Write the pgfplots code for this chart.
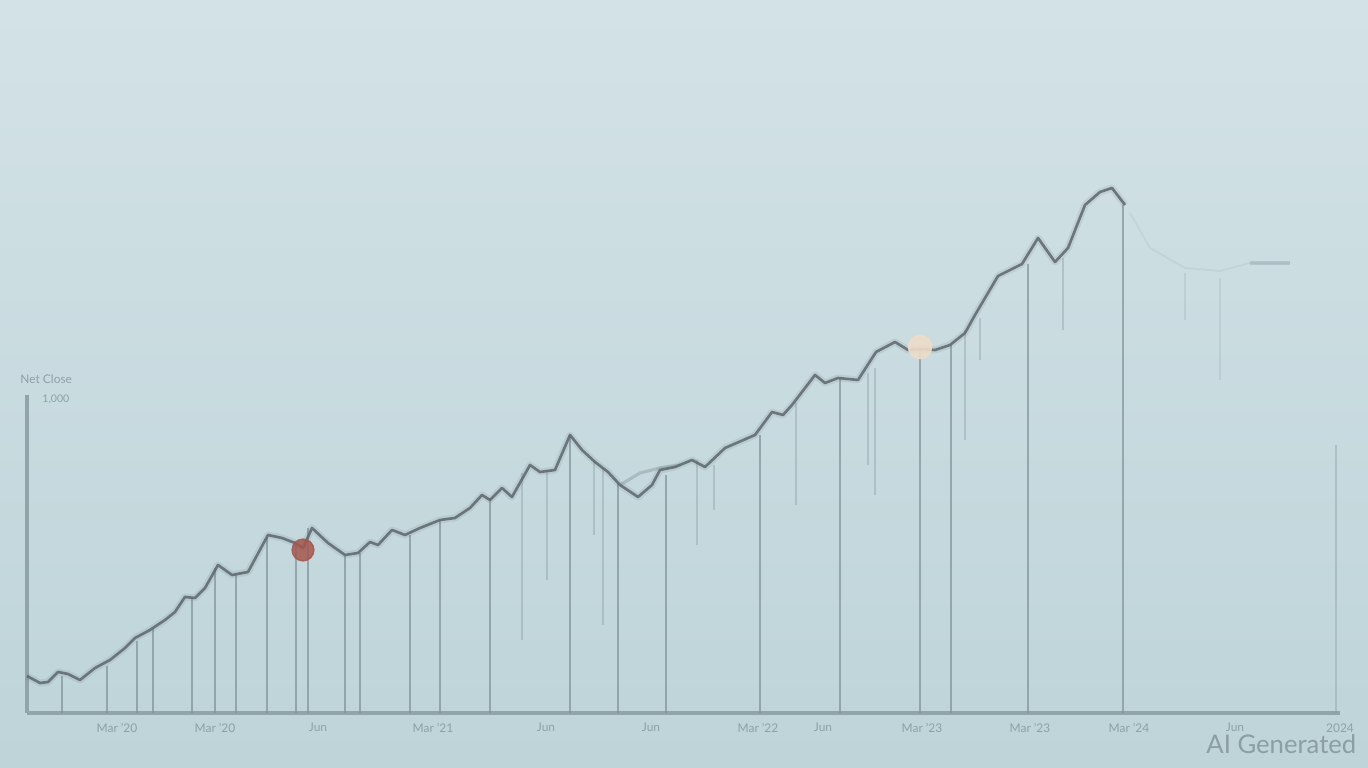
\documentclass[border=0pt]{standalone}
\usepackage{pgfplots}
\pgfplotsset{compat=1.18}
\usepackage{fontspec}
\setmainfont{Lato}
\definecolor{bgtop}{HTML}{D3E2E6}
\definecolor{bgbot}{HTML}{BED4D9}
\definecolor{linec}{HTML}{5C676C}
\definecolor{dropc}{HTML}{7F9297}
\definecolor{axisc}{HTML}{90A4AA}
\definecolor{tickc}{HTML}{8DA1A6}
\definecolor{redc}{HTML}{A4574E}
\definecolor{peachc}{HTML}{EEDCC8}
\definecolor{wmc}{HTML}{8A9EA3}
\begin{document}
\begin{tikzpicture}
% background, 1 px = 0.1 mm
\shade[top color=bgtop, bottom color=bgbot, use as bounding box] (0,0) rectangle (13.68cm,7.68cm);
\begin{axis}[
  at={(0.27cm,0.55cm)}, anchor=south west,
  width=13.13cm, height=3.18cm, scale only axis,
  xmin=27, xmax=1340, ymin=0, ymax=318,
  clip=false,
  axis x line=bottom, axis y line=left,
  axis line style={draw=axisc, line width=1pt, -},
  ytick=\empty,
  xtick={117,215,318,433,546,651,758,823,922,1030,1129,1235,1340},
  xticklabels={Mar '20,Mar '20,Jun,Mar '21,Jun,Jun,Mar '22,Jun,Mar '23,Mar '23,Mar '24,Jun,2024},
  xtick style={draw=none},
  xticklabel style={font=\fontsize{3.4}{4}\selectfont, text=tickc, yshift=2.7pt},
  unbounded coords=jump,
]
% drop lines reaching the axis
\addplot[ycomb, draw=dropc, line width=0.6pt, opacity=0.7] coordinates {
 (62,37)(107,47)(137,72)(153,85)(192,115)(215,145)(236,138)(267,175)
 (296,170)(308,185)(345,158)(360,160)(410,178)(440,193)(490,215)
 (570,278)(618,230)(666,238)(760,278)(840,335)(920,364)(951,368)
 (1028,449)(1123,508)
};
% faint hanging lines
\addplot[draw=dropc, line width=0.45pt, opacity=0.35] coordinates {
 (522,240)(522,73) (522,nan)
 (547,243)(547,133) (547,nan)
 (594,253)(594,178) (594,nan)
 (603,245)(603,88) (603,nan)
 (697,253)(697,168) (697,nan)
 (714,248)(714,203) (714,nan)
 (796,310)(796,208) (796,nan)
 (868,340)(868,248) (868,nan)
 (875,345)(875,218) (875,nan)
 (965,383)(965,273) (965,nan)
 (980,395)(980,353) (980,nan)
 (1063,455)(1063,383) (1063,nan)
 (1336,268)(1336,0) (1336,nan)
};
\addplot[draw=dropc, line width=0.45pt, opacity=0.18] coordinates {
 (1185,440)(1185,393) (1185,nan)
 (1220,435)(1220,333) (1220,nan)
};
% faint continuation on the right
\addplot[draw=dropc, line width=0.5pt, opacity=0.12] coordinates {
 (1130,500)(1150,465)(1185,445)(1220,442)(1250,450)(1290,450)
};
\addplot[draw=dropc, line width=1.1pt, opacity=0.3] coordinates {(1250,450)(1290,450)};
% lighter branch
\addplot[draw=linec, line width=0.9pt, opacity=0.25] coordinates {
 (620,228)(640,240)(660,245)(680,248)
};
% main series: blur halo and line
\pgfplotstableread{
x y
27 37
40 30
48 31
58 41
68 39
80 33
95 45
110 53
125 65
135 75
150 83
165 93
175 101
185 116
195 115
205 125
218 148
232 138
248 141
268 178
282 175
295 170
303 165
312 185
328 170
345 158
358 160
370 171
378 168
392 183
405 178
420 185
440 193
455 195
470 205
482 218
490 213
502 225
512 216
530 248
540 241
555 243
570 278
582 263
595 251
608 241
620 228
638 216
652 228
660 243
675 246
692 253
705 246
725 265
755 278
772 301
783 298
792 308
815 338
825 330
838 335
858 333
876 361
895 371
908 363
920 364
935 363
950 368
965 380
975 398
998 437
1022 449
1038 475
1055 451
1068 465
1085 508
1100 521
1112 525
1125 508
}\series
\addplot[draw=linec, line width=2pt, opacity=0.12, line join=round] table {\series};
\addplot[draw=linec, line width=0.75pt, opacity=0.85, line join=round] table {\series};
% highlighted points
\addplot[only marks, mark=*, mark size=3.1pt, color=redc, opacity=0.85] coordinates {(303,163)};
\addplot[only marks, mark=*, mark size=3.3pt, color=peachc, opacity=0.9] coordinates {(920,366)};
% y-axis caption and top value
\node[anchor=west, text=tickc, font=\fontsize{3.4}{4}\selectfont] at (axis cs:8,334) {Net Close};
\node[anchor=west, text=tickc, font=\fontsize{3}{3.5}\selectfont] at (axis cs:30,314) {1,000};
\end{axis}
\node[anchor=base east, inner sep=0pt, text=wmc, font=\fontsize{7.3}{8}\selectfont] at (13.57cm,0.145cm) {AI Generated};
\end{tikzpicture}
\end{document}
